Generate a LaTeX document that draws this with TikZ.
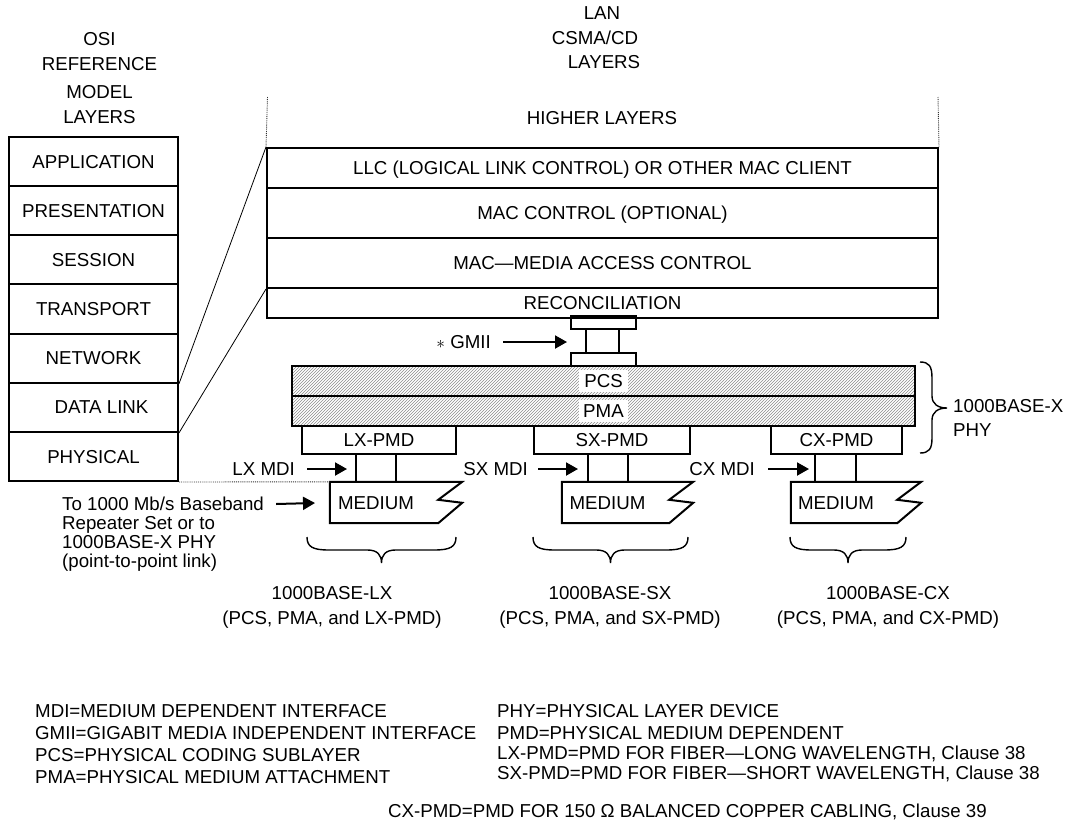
\documentclass[tikz,border=0pt]{standalone}
\usepackage{fontspec}
\setmainfont{Liberation Sans}
\usetikzlibrary{arrows.meta,patterns}
\newcommand\mybrace[3]{\draw[br] (#1,537) .. controls (#1,547) and ({#1+6},550) .. ({#1+22},550) -- ({#2-14},550) .. controls ({#2-4},550) and (#2,555) .. (#2,563) .. controls (#2,555) and ({#2+4},550) .. ({#2+14},550) -- ({#3-22},550) .. controls ({#3-6},550) and (#3,547) .. (#3,537);}
\begin{document}
\begin{tikzpicture}[x=1pt,y=-1pt,
 every node/.style={font=\fontsize{18.7}{22}\selectfont, inner sep=0pt, text height=13.4pt, text depth=0pt},
 lay/.style={draw, line width=2pt},
 osibox/.style={lay, minimum width=169pt, minimum height=49.14pt},
 lanbox/.style={lay, minimum width=671pt},
 pmd/.style={lay, minimum height=28pt},
 med/.style={minimum height=41pt},
 thinl/.style={line width=0.8pt},
 dots/.style={line width=0.9pt, densely dotted, black!80},
 arr/.style={line width=2pt, -{Triangle[length=12pt,width=13pt]}},
 br/.style={line width=1.4pt},
 hatch/.style={lay, pattern=north east lines, pattern color=black!45, minimum width=623pt, minimum height=30pt},
 tag/.style={fill=white, minimum width=49pt, minimum height=22pt},
]
\useasboundingbox (0,0) rectangle (1068,828);

% OSI header
\node (osi1) at (99.5,39) {OSI};
\node (osi2) at (99.5,64) {REFERENCE};
\node (osi3) at (99.5,92) {MODEL};
\node (osi4) at (99.5,117) {LAYERS};

% LAN header
\node (lan1) at (602,13) {LAN};
\node (lan2) at (595,38) {CSMA/CD};
\node (lan3) at (604,62) {LAYERS};
\node (hlay) at (602,118) {HIGHER LAYERS};

% OSI stack
\node[osibox] (app) at (93.5,161.57) {APPLICATION};
\node[osibox] (pres) at (93.5,210.71) {PRESENTATION};
\node[osibox] (sess) at (93.5,259.86) {SESSION};
\node[osibox] (trans) at (93.5,309.0) {TRANSPORT};
\node[osibox] (net) at (93.5,358.14) {NETWORK};
\node[osibox] (dl) at (93.5,407.29) {\hspace*{16pt}DATA LINK};
\node[osibox] (phy) at (93.5,456.43) {PHYSICAL};

% LAN stack
\node[lanbox, minimum height=40pt] (llc) at (602.5,168) {LLC (LOGICAL LINK CONTROL) OR OTHER MAC CLIENT};
\node[lanbox, minimum height=50pt] (macc) at (602.5,213) {MAC CONTROL (OPTIONAL)};
\node[lanbox, minimum height=50pt] (mac) at (602.5,263) {MAC—MEDIA ACCESS CONTROL};
\node[lanbox, minimum height=30pt] (rec) at (602.5,303) {RECONCILIATION};

% dotted verticals
\coordinate (dvl) at (267.5,97);
\coordinate (dvr) at (938,97);
\draw[dots] (dvl) -- (llc.north west);
\draw[dots] (dvr) -- (llc.north east);

% mapping lines
\draw[thinl] (net.south east) -- (llc.north west);
\draw[thinl] (dl.south east) -- (mac.south west);

% GMII
\node[lay, minimum width=65pt, minimum height=9pt] (gtop) at (603.5,322.5) {};
\node[lay, minimum width=65pt, minimum height=13pt] (gbot) at (603.5,359.5) {};
\draw[lay] ([xshift=-17.5pt]gtop.south) -- ([xshift=-17.5pt]gbot.north);
\draw[lay] ([xshift=15.5pt]gtop.south) -- ([xshift=15.5pt]gbot.north);
\node[anchor=east] (gmii) at (491,342) {$\ast$ GMII};
\coordinate (gtip) at (567,342);
\draw[arr] ([xshift=12pt]gmii.east) -- (gtip);

% PCS / PMA
\node[hatch] (pcs) at (603.5,381) {};
\node[hatch] (pma) at (603.5,411) {};
\node[tag] (pcst) at (pcs.center) {PCS};
\node[tag] (pmat) at (pma.center) {PMA};

% PMD boxes
\node[pmd, minimum width=154pt] (lxpmd) at (379,440) {LX-PMD};
\node[pmd, minimum width=156pt] (sxpmd) at (612,440) {SX-PMD};
\node[pmd, minimum width=131pt] (cxpmd) at (836.5,440) {CX-PMD};

% media
\node[med, minimum width=132pt] (lxmed) at (396,502.5) {MEDIUM\hspace*{40pt}};
\node[med, minimum width=131pt] (sxmed) at (627.5,502.5) {MEDIUM\hspace*{40pt}};
\node[med, minimum width=130pt] (cxmed) at (856,502.5) {MEDIUM\hspace*{40pt}};
\foreach \m in {lxmed,sxmed,cxmed}{
  \draw[lay, line join=miter] (\m.north west) -- (\m.north east) -- ++(-24,18) -- ++(24,3) -- ([xshift=-24pt]\m.south east) -- (\m.south west) -- cycle;
}

% MDI connectors
\draw[lay] (lxmed.north) -- (lxmed.north |- lxpmd.south);
\draw[lay] ([xshift=-40pt]lxmed.north) -- ([xshift=-40pt]lxmed.north |- lxpmd.south);
\draw[lay] (sxmed.north) -- (sxmed.north |- sxpmd.south);
\draw[lay] ([xshift=-40pt]sxmed.north) -- ([xshift=-40pt]sxmed.north |- sxpmd.south);
\draw[lay] (cxmed.north) -- (cxmed.north |- cxpmd.south);
\draw[lay] ([xshift=-41pt]cxmed.north) -- ([xshift=-41pt]cxmed.north |- cxpmd.south);

% MDI labels
\node[anchor=east] (lxmdi) at (295,469) {LX MDI};
\node[anchor=east] (sxmdi) at (528,469) {SX MDI};
\node[anchor=east] (cxmdi) at (755,469) {CX MDI};
\coordinate (lxtip) at (347,469);
\coordinate (sxtip) at (578,469);
\coordinate (cxtip) at (809,469);
\draw[arr] ([xshift=12pt]lxmdi.east) -- (lxtip);
\draw[arr] ([xshift=10pt]sxmdi.east) -- (sxtip);
\draw[arr] ([xshift=13pt]cxmdi.east) -- (cxtip);

% dotted link from OSI physical to medium
\draw[dots] (phy.south east) -- (lxmed.north west);

% baseband text
\node[anchor=west] (bb1) at (62,504) {To 1000 Mb/s Baseband};
\node[anchor=west] (bb2) at (62,523) {Repeater Set or to};
\node[anchor=west] (bb3) at (62,542) {1000BASE-X PHY};
\node[anchor=west] (bb4) at (62,561) {(point-to-point link)};
\coordinate (bbtip) at (315,503);
\draw[arr] ([xshift=12pt]bb1.east) -- (bbtip);

% braces
\mybrace{307}{381.5}{456}
\mybrace{533}{610.5}{688}
\mybrace{790}{848}{906}
\draw[br] (920,362) .. controls (929,362) and (932,366) .. (932,378) -- (932,396) .. controls (932,404) and (938,408) .. (947,408) .. controls (938,408) and (932,412) .. (932,420) -- (932,438) .. controls (932,449) and (929,453) .. (920,453);
\node[anchor=west] (phyx1) at (953,406) {1000BASE-X};
\node[anchor=west] (phyx2) at (953,430) {PHY};

% variant labels
\node (lxl1) at (332,593) {1000BASE-LX};
\node (lxl2) at (332,618) {(PCS, PMA, and LX-PMD)};
\node (sxl1) at (610,593) {1000BASE-SX};
\node (sxl2) at (610,618) {(PCS, PMA, and SX-PMD)};
\node (cxl1) at (888,593) {1000BASE-CX};
\node (cxl2) at (888,618) {(PCS, PMA, and CX-PMD)};

% legend
\node[anchor=west] (g1) at (35,711) {MDI=MEDIUM DEPENDENT INTERFACE};
\node[anchor=west] (g2) at (35,733) {GMII=GIGABIT MEDIA INDEPENDENT INTERFACE};
\node[anchor=west] (g3) at (35,755) {PCS=PHYSICAL CODING SUBLAYER};
\node[anchor=west] (g4) at (35,777) {PMA=PHYSICAL MEDIUM ATTACHMENT};
\node[anchor=west] (g5) at (497,711) {PHY=PHYSICAL LAYER DEVICE};
\node[anchor=west] (g6) at (497,733) {PMD=PHYSICAL MEDIUM DEPENDENT};
\node[anchor=west] (g7) at (497,753) {LX-PMD=PMD FOR FIBER—LONG WAVELENGTH, Clause 38};
\node[anchor=west] (g8) at (497,773) {SX-PMD=PMD FOR FIBER—SHORT WAVELENGTH, Clause 38};
\node[anchor=west] (g9) at (388,811) {CX-PMD=PMD FOR 150 Ω BALANCED COPPER CABLING, Clause 39};
\end{tikzpicture}
\end{document}
